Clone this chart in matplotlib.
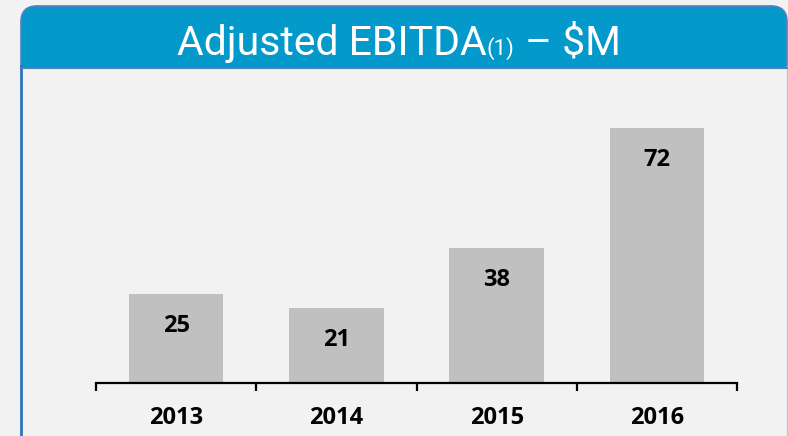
import matplotlib.pyplot as plt
from matplotlib.patches import FancyBboxPatch, Rectangle
from matplotlib.lines import Line2D

# --- data ---
years = ["2013", "2014", "2015", "2016"]
ebitda = [25, 21, 38, 72]

BG = "#f2f2f2"
HEADER_BLUE = "#0399cb"
BAR_GREY = "#c0c0c0"

W, H = 788, 436
fig = plt.figure(figsize=(W / 100, H / 100), dpi=100, facecolor=BG)

# --- panel frame (pixel coords via a full-figure axes) ---
frame = fig.add_axes([0, 0, 1, 1])
frame.set_xlim(0, W)
frame.set_ylim(H, 0)
frame.axis("off")

# body borders
frame.add_line(Line2D([21, 21], [66, H], color="#2e75b6", lw=2))
frame.add_line(Line2D([787, 787], [66, H], color="#b8c8dc", lw=1))

# header with rounded top corners
hdr = FancyBboxPatch((21, 6), 766, 80, boxstyle="round,pad=0,rounding_size=16",
                     fc=HEADER_BLUE, ec="#4f7fbf", lw=1.2)
frame.add_patch(hdr)
frame.add_patch(Rectangle((20, 68), 769, 30, fc=BG, ec="none"))
frame.add_line(Line2D([21, 787], [68, 68], color="#4f7fbf", lw=1.5))

# title in pieces so "(1)" can be smaller
title_font = ["Liberation Sans Narrow", "Roboto", "DejaVu Sans"]
pieces = [("Adjusted EBITDA", 29.5), ("(1)", 16), (" \u2013 $M", 29.5)]
texts = []
for s, fs in pieces:
    texts.append(frame.text(0, 55, s, color="white", fontsize=fs,
                            family=title_font, ha="left", va="baseline"))
fig.canvas.draw()
r = fig.canvas.get_renderer()
widths = [t.get_window_extent(r).width for t in texts]
x = 399 - sum(widths) / 2
for t, w in zip(texts, widths):
    t.set_x(x)
    x += w

# --- bar chart ---
ax = fig.add_axes([96 / W, 53.5 / H, 641 / W, 283 / H])
ax.set_facecolor("none")
pos = range(len(years))
bars = ax.bar(pos, ebitda, width=0.59, color=BAR_GREY)
ax.set_xlim(-0.5, len(years) - 0.5)
ax.set_ylim(0, 80)

for b, v in zip(bars, ebitda):
    ax.annotate(str(v), (b.get_x() + b.get_width() / 2, v), xytext=(0, -23),
                textcoords="offset points", ha="center", va="center",
                fontsize=17, fontweight="bold", family="Open Sans")

for side in ["left", "right", "top"]:
    ax.spines[side].set_visible(False)
ax.spines["bottom"].set_linewidth(1.6)
ax.set_yticks([])
ax.set_xticks([i - 0.5 for i in range(len(years) + 1)])
ax.set_xticklabels([])
ax.set_xticks(list(pos), minor=True)
ax.set_xticklabels(years, minor=True, fontsize=17, fontweight="bold", family="Open Sans")
ax.tick_params(axis="x", which="major", length=6, width=1.6, direction="out")
ax.tick_params(axis="x", which="minor", length=0, pad=17)

fig.savefig("out.png", dpi=100, facecolor=BG)
